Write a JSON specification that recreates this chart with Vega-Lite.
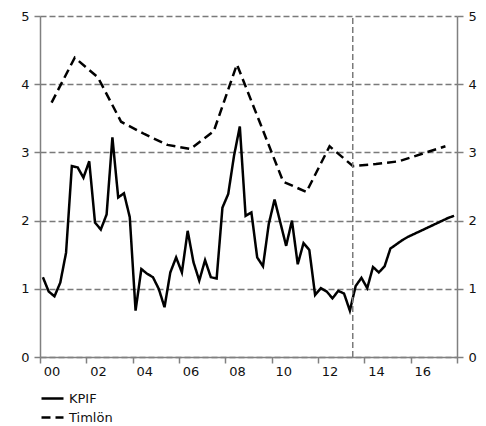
{
  "$schema": "https://vega.github.io/schema/vega-lite/v6.json",
  "width": 417,
  "height": 341,
  "padding": {"left": 20, "top": 10, "right": 5, "bottom": 5},
  "config": {
    "font": "DejaVu Sans",
    "view": {"stroke": null},
    "axis": {"labelFontSize": 13, "labelColor": "#111111", "domainColor": "#808080", "tickColor": "#808080", "tickSize": 6, "domainWidth": 1.5, "tickWidth": 1.5}
  },
  "datasets": {
    "series": [
      {"series": "KPIF", "t": 2000.125, "v": 1.17}, {"series": "KPIF", "t": 2000.375, "v": 0.96}, {"series": "KPIF", "t": 2000.625, "v": 0.89}, {"series": "KPIF", "t": 2000.875, "v": 1.09},
      {"series": "KPIF", "t": 2001.125, "v": 1.53}, {"series": "KPIF", "t": 2001.375, "v": 2.80}, {"series": "KPIF", "t": 2001.625, "v": 2.78}, {"series": "KPIF", "t": 2001.875, "v": 2.63},
      {"series": "KPIF", "t": 2002.125, "v": 2.87}, {"series": "KPIF", "t": 2002.375, "v": 1.97}, {"series": "KPIF", "t": 2002.625, "v": 1.87}, {"series": "KPIF", "t": 2002.875, "v": 2.09},
      {"series": "KPIF", "t": 2003.125, "v": 3.22}, {"series": "KPIF", "t": 2003.375, "v": 2.34}, {"series": "KPIF", "t": 2003.625, "v": 2.40}, {"series": "KPIF", "t": 2003.875, "v": 2.05},
      {"series": "KPIF", "t": 2004.125, "v": 0.68}, {"series": "KPIF", "t": 2004.375, "v": 1.29}, {"series": "KPIF", "t": 2004.625, "v": 1.22}, {"series": "KPIF", "t": 2004.875, "v": 1.17},
      {"series": "KPIF", "t": 2005.125, "v": 1.00}, {"series": "KPIF", "t": 2005.375, "v": 0.73}, {"series": "KPIF", "t": 2005.625, "v": 1.24}, {"series": "KPIF", "t": 2005.875, "v": 1.46},
      {"series": "KPIF", "t": 2006.125, "v": 1.24}, {"series": "KPIF", "t": 2006.375, "v": 1.85}, {"series": "KPIF", "t": 2006.625, "v": 1.39}, {"series": "KPIF", "t": 2006.875, "v": 1.12},
      {"series": "KPIF", "t": 2007.125, "v": 1.42}, {"series": "KPIF", "t": 2007.375, "v": 1.17}, {"series": "KPIF", "t": 2007.625, "v": 1.15}, {"series": "KPIF", "t": 2007.875, "v": 2.19},
      {"series": "KPIF", "t": 2008.125, "v": 2.39}, {"series": "KPIF", "t": 2008.375, "v": 2.95}, {"series": "KPIF", "t": 2008.625, "v": 3.38}, {"series": "KPIF", "t": 2008.875, "v": 2.07},
      {"series": "KPIF", "t": 2009.125, "v": 2.12}, {"series": "KPIF", "t": 2009.375, "v": 1.46}, {"series": "KPIF", "t": 2009.625, "v": 1.33}, {"series": "KPIF", "t": 2009.875, "v": 1.95},
      {"series": "KPIF", "t": 2010.125, "v": 2.31}, {"series": "KPIF", "t": 2010.375, "v": 1.97}, {"series": "KPIF", "t": 2010.625, "v": 1.63}, {"series": "KPIF", "t": 2010.875, "v": 2.00},
      {"series": "KPIF", "t": 2011.125, "v": 1.36}, {"series": "KPIF", "t": 2011.375, "v": 1.67}, {"series": "KPIF", "t": 2011.625, "v": 1.57}, {"series": "KPIF", "t": 2011.875, "v": 0.91},
      {"series": "KPIF", "t": 2012.125, "v": 1.01}, {"series": "KPIF", "t": 2012.375, "v": 0.96}, {"series": "KPIF", "t": 2012.625, "v": 0.86}, {"series": "KPIF", "t": 2012.875, "v": 0.97},
      {"series": "KPIF", "t": 2013.125, "v": 0.93}, {"series": "KPIF", "t": 2013.375, "v": 0.68}, {"series": "KPIF", "t": 2013.625, "v": 1.04}, {"series": "KPIF", "t": 2013.875, "v": 1.16},
      {"series": "KPIF", "t": 2014.125, "v": 1.01}, {"series": "KPIF", "t": 2014.375, "v": 1.32}, {"series": "KPIF", "t": 2014.625, "v": 1.24}, {"series": "KPIF", "t": 2014.875, "v": 1.33},
      {"series": "KPIF", "t": 2015.125, "v": 1.59}, {"series": "KPIF", "t": 2015.375, "v": 1.65}, {"series": "KPIF", "t": 2015.625, "v": 1.71}, {"series": "KPIF", "t": 2015.875, "v": 1.76},
      {"series": "KPIF", "t": 2016.125, "v": 1.80}, {"series": "KPIF", "t": 2016.375, "v": 1.84}, {"series": "KPIF", "t": 2016.625, "v": 1.88}, {"series": "KPIF", "t": 2016.875, "v": 1.92},
      {"series": "KPIF", "t": 2017.125, "v": 1.96}, {"series": "KPIF", "t": 2017.375, "v": 2.00}, {"series": "KPIF", "t": 2017.625, "v": 2.04}, {"series": "KPIF", "t": 2017.875, "v": 2.07},
      {"series": "Timlön", "t": 2000.5, "v": 3.73}, {"series": "Timlön", "t": 2001.5, "v": 4.39}, {"series": "Timlön", "t": 2002.5, "v": 4.10},
      {"series": "Timlön", "t": 2003.5, "v": 3.45}, {"series": "Timlön", "t": 2004.5, "v": 3.27}, {"series": "Timlön", "t": 2005.5, "v": 3.11},
      {"series": "Timlön", "t": 2006.5, "v": 3.05}, {"series": "Timlön", "t": 2007.5, "v": 3.31}, {"series": "Timlön", "t": 2008.5, "v": 4.29},
      {"series": "Timlön", "t": 2009.5, "v": 3.43}, {"series": "Timlön", "t": 2010.5, "v": 2.57}, {"series": "Timlön", "t": 2011.5, "v": 2.42},
      {"series": "Timlön", "t": 2012.5, "v": 3.09}, {"series": "Timlön", "t": 2013.5, "v": 2.80}, {"series": "Timlön", "t": 2014.5, "v": 2.83},
      {"series": "Timlön", "t": 2015.5, "v": 2.87}, {"series": "Timlön", "t": 2016.5, "v": 2.98}, {"series": "Timlön", "t": 2017.5, "v": 3.09}
    ],
    "marker": [{"t": 2013.5, "lo": 0, "hi": 5}]
  },
  "layer": [
    {
      "data": {"name": "series"},
      "mark": {"type": "line", "color": "black", "strokeWidth": 2.5},
      "encoding": {
        "x": {
          "field": "t", "type": "quantitative",
          "scale": {"domain": [2000, 2018], "nice": false, "zero": false},
          "axis": {
            "title": null, "grid": false,
            "values": [2000, 2001, 2002, 2003, 2004, 2005, 2006, 2007, 2008, 2009, 2010, 2011, 2012, 2013, 2014, 2015, 2016, 2017, 2018],
            "labelExpr": "datum.value % 2 == 0 && datum.value < 2018 ? format(datum.value % 100, '02d') : ''",
            "labelOffset": 11.6, "labelFlush": false, "labelOverlap": false, "labelPadding": 2
          }
        },
        "y": {
          "field": "v", "type": "quantitative",
          "scale": {"domain": [0, 5], "nice": false},
          "axis": {
            "title": null, "values": [0, 1, 2, 3, 4, 5], "grid": true,
            "gridDash": [6, 3], "gridColor": "#7a7a7a", "gridWidth": 1.5, "labelPadding": 5
          }
        },
        "strokeDash": {
          "field": "series", "type": "nominal",
          "scale": {"domain": ["KPIF", "Timlön"], "range": [[1, 0], [9, 5]]},
          "legend": {
            "title": null, "orient": "bottom", "direction": "vertical",
            "symbolType": "stroke", "symbolSize": 484, "symbolStrokeWidth": 2.5,
            "symbolStrokeColor": "black", "labelFontSize": 13, "labelColor": "#111111", "clipHeight": 17, "offset": 12
          }
        }
      }
    },
    {
      "data": {"name": "marker"},
      "mark": {"type": "rule", "color": "#7a7a7a", "strokeDash": [6, 3], "strokeWidth": 1.5},
      "encoding": {
        "x": {"field": "t", "type": "quantitative"},
        "y": {
          "field": "lo", "type": "quantitative",
          "axis": {"orient": "right", "title": null, "values": [0, 1, 2, 3, 4, 5], "grid": false, "labelPadding": 5}
        },
        "y2": {"field": "hi"}
      }
    }
  ],
  "resolve": {"axis": {"y": "independent"}}
}
